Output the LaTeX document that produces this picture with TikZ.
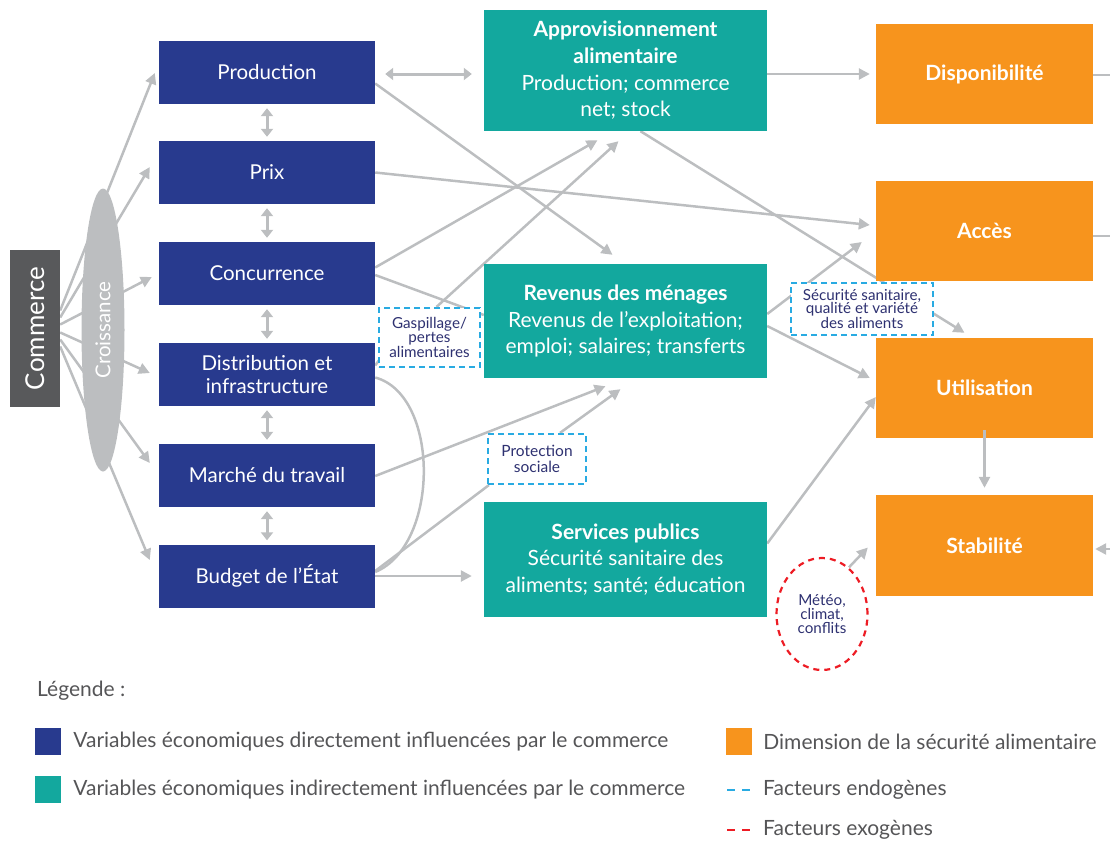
\documentclass[tikz,border=0pt]{standalone}
\usepackage{fontspec}
\setmainfont{Lato}
\usetikzlibrary{positioning,calc,arrows.meta,shapes.geometric}

\definecolor{navy}{HTML}{283A8E}
\definecolor{sarcelle}{HTML}{13A89E}
\definecolor{orangebox}{HTML}{F7941D}
\definecolor{arrowgray}{HTML}{BCBEC0}
\definecolor{darkbox}{HTML}{58595B}
\definecolor{dashblue}{HTML}{29ABE2}
\definecolor{dashred}{HTML}{ED1C24}
\definecolor{labelnavy}{HTML}{2E3171}
\definecolor{legendgray}{HTML}{555557}

\pgfdeclarelayer{background}
\pgfsetlayers{background,main}

\begin{document}
\begin{tikzpicture}[x=1pt,y=-1pt,
  every node/.style={inner sep=0pt},
  dirbox/.style={fill=navy,text=white,minimum width=216pt,minimum height=63pt,align=center,font=\fontsize{20.5}{23}\selectfont},
  indbox/.style={fill=sarcelle,text=white,minimum width=283pt,align=center,font=\fontsize{21}{26.6}\selectfont},
  dimbox/.style={fill=orangebox,text=white,minimum width=217pt,minimum height=100pt,font=\bfseries\fontsize{21}{24}\selectfont},
  endo/.style={draw=dashblue,fill=white,line width=2.2pt,dash pattern=on 6pt off 4pt,align=center,text=labelnavy,font=\fontsize{15.2}{13.5}\selectfont},
  exo/.style={ellipse,draw=dashred,line width=2.2pt,dash pattern=on 6pt off 5pt,align=center,text=labelnavy,font=\fontsize{15.2}{14}\selectfont},
  link/.style={draw=arrowgray,line width=2.5pt,-{Triangle[length=11pt,width=11pt]}},
  bareline/.style={draw=arrowgray,line width=2.5pt},
  twoway/.style={draw=arrowgray,line width=3pt,{Triangle[length=8pt,width=12pt]}-{Triangle[length=8pt,width=12pt]}},
  legtext/.style={anchor=west,text=legendgray,font=\fontsize{21}{24}\selectfont}]
\useasboundingbox (0,0) rectangle (1110,843);

% commerce et croissance
\node[fill=darkbox,text=white,rotate=90,minimum width=157pt,minimum height=50pt,font=\fontsize{26}{30}\selectfont] (comm) at (35,328.5) {Commerce};
\node[ellipse,fill=arrowgray,text=white,rotate=90,minimum width=283pt,minimum height=43pt,font=\fontsize{20.5}{22}\selectfont] (crois) at (103,330) {Croissance};

% variables directes
\node[dirbox] (prod) at (267,72.5) {Production};
\node[dirbox] (prix) at (267,172.5) {Prix};
\node[dirbox] (conc) at (267,273.5) {Concurrence};
\node[dirbox] (dist) at (267,374.5) {Distribution et\\infrastructure};
\node[dirbox] (marche) at (267,475.5) {Marché du travail};
\node[dirbox] (budget) at (267,576) {Budget de l’État};

% variables indirectes
\node[indbox,minimum height=121pt] (appro) at (625.5,70.5) {\textbf{Approvisionnement}\\\textbf{alimentaire}\\Production; commerce\\net; stock};
\node[indbox,minimum height=114pt] (rev) at (625.5,321) {\textbf{Revenus des ménages}\\Revenus de l’exploitation;\\emploi; salaires; transferts};
\node[indbox,minimum height=115pt] (serv) at (625.5,559.5) {\textbf{Services publics}\\Sécurité sanitaire des\\aliments; santé; éducation};

% dimensions
\node[dimbox] (dispo) at (984.5,74) {Disponibilité};
\node[dimbox] (acces) at (984.5,231) {Accès};
\node[dimbox] (util) at (984.5,388) {Utilisation};
\node[dimbox,minimum height=101pt] (stab) at (984.5,545.5) {Stabilité};

% facteurs
\node[endo,minimum width=101pt,minimum height=59pt] (gasp) at (429.5,337.5) {Gaspillage/\\pertes\\alimentaires};
\node[endo,minimum width=98pt,minimum height=50pt,font=\fontsize{15.5}{15.5}\selectfont] (prot) at (537,459) {Protection\\sociale};
\node[endo,minimum width=142pt,minimum height=52pt] (secu) at (862,309) {Sécurité sanitaire,\\qualité et variété\\des aliments};
\node[exo,minimum width=91pt,minimum height=112pt] (meteo) at (822,614) {Météo,\\climat,\\conflits};

\coordinate (bordA) at (1110,75);
\coordinate (bordB) at (1110,236);
\coordinate (bordC) at (1110,549);

\begin{pgfonlayer}{background}
% commerce vers variables
\foreach \t/\dy/\ex/\ey in {prod/-18/-4/0.5, prix/-11/-9/-5.5, conc/-4/-7/3.5, dist/4/-9/-1.5, marche/11/-9/-12.5, budget/18/-9/-16}
  \draw[link] ($(comm.south)+(0,\dy)$) -- ($(\t.west)+(\ex,\ey)$);
\foreach \a/\b in {prod/prix, prix/conc, conc/dist, dist/marche, marche/budget}
  \draw[twoway] ($(\a.south)+(0,4)$) -- ($(\b.north)+(0,-4)$);

\draw[twoway] ($(prod.east)+(10,1.5)$) -- ($(appro.west)+(-12,3.5)$);
\draw[link] ($(prod.east)+(0,11)$) -- ($(rev.north)+(-13,-9)$);
\draw[link] (prix.east) -- ($(acces.west)+(-6,-6)$);
\draw[link] ($(conc.east)+(0,-6)$) -- ($(appro.south)+(-28,9)$);
\draw[bareline] ($(conc.east)+(0,1.5)$) -- ($(rev.west)+(0,-6)$);
\draw[bareline] ($(dist.east)+(0,-9)$) -- ($(gasp.west)+(3,20)$);
\draw[link] ($(gasp.north)+(7,0)$) -- ($(appro.south)+(-7,10)$);
\draw[bareline] ($(dist.east)+(0,3)$) .. controls (440,395) and (440,545) .. ($(budget.east)+(0,-4)$);
\draw[link] ($(marche.east)+(0,0.5)$) -- ($(rev.south)+(-20,8)$);
\draw[link] ($(prot.north)+(23,0)$) -- ($(rev.south)+(-5,11)$);
\draw[bareline] ($(budget.east)+(0,-5)$) -- ($(prot.south west)+(2,0)$);
\draw[link] (budget.east) -- ($(budget.east -| serv.west)+(-12,0)$);

\draw[link] ($(appro.east)+(0,3.5)$) -- ($(dispo.west)+(-6,0)$);
\draw[link] ($(appro.south)+(15,0)$) -- ($(util.north)+(-20,-5)$);
\draw[link] ($(rev.east)+(0,-7)$) -- ($(acces.west)+(-14,11)$);
\draw[link] ($(rev.east)+(0,5)$) -- ($(util.west)+(-6,-10)$);
\draw[link] ($(serv.east)+(0,-16)$) -- ($(util.west)+(0,9)$);
\draw[link] (meteo.60) -- ($(stab.west)+(-8,2)$);

\draw[bareline] ($(dispo.east)+(0,1)$) -- (bordA);
\draw[bareline] ($(acces.east)+(0,5)$) -- (bordB);
\draw[link] (bordC) -- ($(stab.east)+(2,3.5)$);
\end{pgfonlayer}
\draw[link] ($(util.south)+(0,-8)$) -- ($(stab.north)+(0,-7)$);

% légende
\node[legtext] (leg) at (37,691) {Légende :};
\node[fill=navy,minimum width=26pt,minimum height=27pt] (ldir) at (48,741.5) {};
\node[legtext,right=12pt of ldir] {Variables économiques directement influencées par le commerce};
\node[fill=sarcelle,minimum width=26pt,minimum height=27pt] (lind) at (48,789.5) {};
\node[legtext,right=12pt of lind] {Variables économiques indirectement influencées par le commerce};
\node[fill=orangebox,minimum width=26pt,minimum height=27pt] (ldim) at (739,741.5) {};
\node[legtext,right=11pt of ldim] {Dimension de la sécurité alimentaire};
\draw[dashblue,line width=2.5pt,dash pattern=on 8pt off 7pt] (727,790) -- (751,790);
\node[legtext] (lendo) at (763,790) {Facteurs endogènes};
\draw[dashred,line width=2.5pt,dash pattern=on 8pt off 7pt] (727,830) -- (751,830);
\node[legtext] (lexo) at (763,830) {Facteurs exogènes};
\end{tikzpicture}
\end{document}
